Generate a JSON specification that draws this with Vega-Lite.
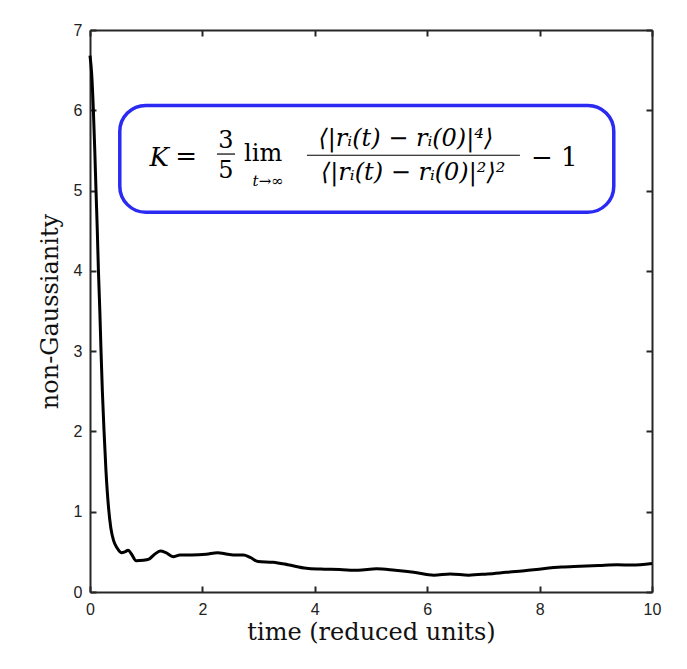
{
  "$schema": "https://vega.github.io/schema/vega-lite/v6.json",
  "autosize": "none",
  "padding": {"left": 90, "top": 30, "right": 35, "bottom": 77},
  "width": 562,
  "height": 562,
  "background": "white",
  "datasets": {
    "curve": [
      {"t": 0, "k": 6.68}, {"t": 0.03, "k": 6.45}, {"t": 0.06, "k": 6.0}, {"t": 0.085, "k": 5.5},
      {"t": 0.107, "k": 5.0}, {"t": 0.13, "k": 4.5}, {"t": 0.15, "k": 4.0}, {"t": 0.175, "k": 3.5},
      {"t": 0.196, "k": 3.0}, {"t": 0.22, "k": 2.5}, {"t": 0.25, "k": 2.0}, {"t": 0.285, "k": 1.5},
      {"t": 0.33, "k": 1.05}, {"t": 0.37, "k": 0.8}, {"t": 0.42, "k": 0.64}, {"t": 0.48, "k": 0.55},
      {"t": 0.56, "k": 0.49}, {"t": 0.62, "k": 0.5}, {"t": 0.68, "k": 0.52}, {"t": 0.74, "k": 0.47},
      {"t": 0.82, "k": 0.39}, {"t": 0.95, "k": 0.395}, {"t": 1.05, "k": 0.41}, {"t": 1.15, "k": 0.47},
      {"t": 1.25, "k": 0.51}, {"t": 1.35, "k": 0.49}, {"t": 1.48, "k": 0.44}, {"t": 1.6, "k": 0.46},
      {"t": 1.81, "k": 0.46}, {"t": 2.07, "k": 0.47}, {"t": 2.27, "k": 0.49}, {"t": 2.45, "k": 0.47},
      {"t": 2.6, "k": 0.46}, {"t": 2.73, "k": 0.46}, {"t": 2.85, "k": 0.43}, {"t": 2.99, "k": 0.38},
      {"t": 3.26, "k": 0.37}, {"t": 3.52, "k": 0.34}, {"t": 3.85, "k": 0.295}, {"t": 4.1, "k": 0.285},
      {"t": 4.44, "k": 0.28}, {"t": 4.77, "k": 0.27}, {"t": 5.1, "k": 0.29}, {"t": 5.43, "k": 0.27},
      {"t": 5.76, "k": 0.245}, {"t": 6.12, "k": 0.21}, {"t": 6.41, "k": 0.225}, {"t": 6.74, "k": 0.21},
      {"t": 7.07, "k": 0.225}, {"t": 7.4, "k": 0.245}, {"t": 7.73, "k": 0.265}, {"t": 8.06, "k": 0.29},
      {"t": 8.39, "k": 0.31}, {"t": 8.72, "k": 0.32}, {"t": 9.05, "k": 0.33}, {"t": 9.38, "k": 0.34},
      {"t": 9.64, "k": 0.335}, {"t": 10, "k": 0.355}
    ],
    "one": [{}]
  },
  "layer": [
    {
      "data": {"name": "curve"},
      "mark": {"type": "line", "color": "black", "strokeWidth": 3, "interpolate": "monotone"},
      "encoding": {
        "x": {
          "field": "t", "type": "quantitative",
          "scale": {"domain": [0, 10], "nice": false},
          "axis": {"orient": "bottom", "values": [0, 2, 4, 6, 8, 10], "title": "time (reduced units)", "labelPadding": 15, "titlePadding": 3}
        },
        "y": {
          "field": "k", "type": "quantitative",
          "scale": {"domain": [0, 7], "nice": false},
          "axis": {"orient": "left", "values": [0, 1, 2, 3, 4, 5, 6, 7], "title": "non-Gaussianity", "labelPadding": 14, "titlePadding": 11}
        }
      }
    },
    {
      "data": {"name": "curve"},
      "mark": {"type": "line", "opacity": 0},
      "encoding": {
        "x": {"field": "t", "type": "quantitative", "axis": {"orient": "top", "values": [0, 2, 4, 6, 8, 10], "labels": false, "title": null}},
        "y": {"field": "k", "type": "quantitative", "axis": {"orient": "right", "values": [0, 1, 2, 3, 4, 5, 6, 7], "labels": false, "title": null}}
      }
    },
    {
      "data": {"name": "one"},
      "mark": {"type": "rect", "fill": "white", "stroke": "#2a2af2", "strokeWidth": 3.5, "cornerRadius": 26},
      "encoding": {
        "x": {"datum": 0.53, "type": "quantitative", "axis": null},
        "x2": {"datum": 9.32},
        "y": {"datum": 6.06, "type": "quantitative", "axis": null},
        "y2": {"datum": 4.73}
      }
    },
    {
      "data": {"name": "one"},
      "mark": {"type": "text", "text": "K", "font": "DejaVu Serif", "fontSize": 26, "fontStyle": "italic", "baseline": "middle"},
      "encoding": {"x": {"datum": 1.23, "type": "quantitative", "axis": null}, "y": {"datum": 5.4, "type": "quantitative", "axis": null}}
    },
    {
      "data": {"name": "one"},
      "mark": {"type": "text", "text": "=", "font": "DejaVu Serif", "fontSize": 26, "baseline": "middle"},
      "encoding": {"x": {"datum": 1.71, "type": "quantitative", "axis": null}, "y": {"datum": 5.42, "type": "quantitative", "axis": null}}
    },
    {
      "data": {"name": "one"},
      "mark": {"type": "text", "text": "3", "font": "DejaVu Serif", "fontSize": 24, "baseline": "middle"},
      "encoding": {"x": {"datum": 2.42, "type": "quantitative", "axis": null}, "y": {"datum": 5.62, "type": "quantitative", "axis": null}}
    },
    {
      "data": {"name": "one"},
      "mark": {"type": "text", "text": "5", "font": "DejaVu Serif", "fontSize": 24, "baseline": "middle"},
      "encoding": {"x": {"datum": 2.42, "type": "quantitative", "axis": null}, "y": {"datum": 5.24, "type": "quantitative", "axis": null}}
    },
    {
      "data": {"name": "one"},
      "mark": {"type": "rule", "color": "black", "strokeWidth": 1.2},
      "encoding": {"x": {"datum": 2.26, "type": "quantitative", "axis": null}, "x2": {"datum": 2.58}, "y": {"datum": 5.455, "type": "quantitative", "axis": null}}
    },
    {
      "data": {"name": "one"},
      "mark": {"type": "text", "text": "lim", "font": "DejaVu Serif", "fontSize": 24, "baseline": "middle"},
      "encoding": {"x": {"datum": 3.08, "type": "quantitative", "axis": null}, "y": {"datum": 5.46, "type": "quantitative", "axis": null}}
    },
    {
      "data": {"name": "one"},
      "mark": {"type": "text", "text": "t→∞", "font": "DejaVu Serif", "fontSize": 15, "fontStyle": "italic", "baseline": "middle"},
      "encoding": {"x": {"datum": 3.17, "type": "quantitative", "axis": null}, "y": {"datum": 5.12, "type": "quantitative", "axis": null}}
    },
    {
      "data": {"name": "one"},
      "mark": {"type": "text", "text": "⟨|rᵢ(t) − rᵢ(0)|⁴⟩", "font": "DejaVu Serif", "fontSize": 24, "fontStyle": "italic", "baseline": "middle"},
      "encoding": {"x": {"datum": 5.62, "type": "quantitative", "axis": null}, "y": {"datum": 5.64, "type": "quantitative", "axis": null}}
    },
    {
      "data": {"name": "one"},
      "mark": {"type": "rule", "color": "black", "strokeWidth": 1.2},
      "encoding": {"x": {"datum": 3.86, "type": "quantitative", "axis": null}, "x2": {"datum": 7.65}, "y": {"datum": 5.44, "type": "quantitative", "axis": null}}
    },
    {
      "data": {"name": "one"},
      "mark": {"type": "text", "text": "⟨|rᵢ(t) − rᵢ(0)|²⟩²", "font": "DejaVu Serif", "fontSize": 24, "fontStyle": "italic", "baseline": "middle"},
      "encoding": {"x": {"datum": 5.75, "type": "quantitative", "axis": null}, "y": {"datum": 5.22, "type": "quantitative", "axis": null}}
    },
    {
      "data": {"name": "one"},
      "mark": {"type": "text", "text": "− 1", "font": "DejaVu Serif", "fontSize": 26, "baseline": "middle"},
      "encoding": {"x": {"datum": 8.26, "type": "quantitative", "axis": null}, "y": {"datum": 5.4, "type": "quantitative", "axis": null}}
    }
  ],
  "resolve": {"axis": {"x": "independent", "y": "independent"}},
  "config": {
    "view": {"stroke": null},
    "axis": {
      "grid": false,
      "labelFlush": false,
      "domainColor": "#262626",
      "domainWidth": 2,
      "tickColor": "#262626",
      "tickWidth": 2,
      "tickSize": -6,
      "labelFont": "Liberation Sans",
      "labelFontSize": 16,
      "labelColor": "#222222",
      "titleFont": "DejaVu Serif",
      "titleFontSize": 24,
      "titleFontWeight": "normal",
      "titleColor": "#111111"
    }
  }
}
